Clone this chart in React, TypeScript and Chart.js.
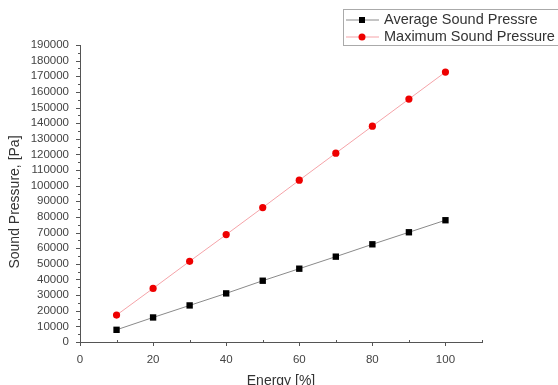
import React, { useEffect, useRef } from "react";
import { Chart, registerables } from "chart.js";

Chart.register(...registerables);

const energy = [10, 20, 30, 40, 50, 60, 70, 80, 90, 100];
const averagePressure = [7800, 15700, 23400, 31100, 39200, 46900, 54600, 62500, 70200, 77900];
const maximumPressure = [17200, 34300, 51600, 68700, 86000, 103500, 120800, 138100, 155400, 172700];
const seriesLabels = ["Average Sound Pressre", "Maximum Sound Pressure"];
const xTitle = "Energy [%]";
const yTitle = "Sound Pressure, [Pa]";

const FONT = "'Liberation Sans', Arial, sans-serif";
const AXIS_COLOR = "#555";

const decorPlugin = {
  id: "decor",
  afterDraw(chart: any) {
    const ctx = chart.ctx;
    const xs = chart.scales.x;
    const ys = chart.scales.y;
    const area = chart.chartArea;
    ctx.save();
    ctx.strokeStyle = AXIS_COLOR;
    ctx.lineWidth = 1;
    // y ticks
    for (let v = 0; v <= 190000; v += 5000) {
      const py = Math.round(ys.getPixelForValue(v)) + 0.5;
      const major = v % 10000 === 0;
      ctx.beginPath();
      ctx.moveTo(area.left, py);
      ctx.lineTo(area.left - (major ? 4 : 2), py);
      ctx.stroke();
    }
    // x ticks
    for (let v = 0; v <= 110; v += 10) {
      const px = Math.round(xs.getPixelForValue(v)) + 0.5;
      const major = v % 20 === 0;
      ctx.beginPath();
      if (major) {
        ctx.moveTo(px, area.bottom);
        ctx.lineTo(px, area.bottom + 4);
      } else {
        ctx.moveTo(px, area.bottom - 2);
        ctx.lineTo(px, area.bottom + 1);
      }
      ctx.stroke();
    }
    // axis titles
    ctx.fillStyle = "#333";
    ctx.font = `14px ${FONT}`;
    ctx.textAlign = "center";
    ctx.textBaseline = "middle";
    ctx.fillText(xTitle, (area.left + area.right) / 2, 381);
    ctx.save();
    ctx.translate(15, 202);
    ctx.rotate(-Math.PI / 2);
    ctx.fillText(yTitle, 0, 0);
    ctx.restore();

    // legend
    const bx = 343.5, by = 9.5, bw = 240, bh = 36;
    ctx.strokeStyle = "#aaa";
    ctx.strokeRect(bx, by, bw, bh);
    const rows = [20, 37];
    chart.data.datasets.forEach((ds: any, i: number) => {
      const y = rows[i];
      ctx.strokeStyle = ds.borderColor;
      ctx.lineWidth = 1;
      ctx.beginPath();
      ctx.moveTo(346, y);
      ctx.lineTo(379, y);
      ctx.stroke();
      ctx.fillStyle = ds.pointBackgroundColor;
      if (ds.pointStyle === "rect") {
        ctx.fillRect(362 - 3, y - 3, 6, 6);
      } else {
        ctx.beginPath();
        ctx.arc(362, y, 3.5, 0, Math.PI * 2);
        ctx.fill();
      }
      ctx.fillStyle = "#333";
      ctx.font = `14.5px ${FONT}`;
      ctx.textAlign = "left";
      ctx.textBaseline = "middle";
      ctx.fillText(ds.label, 384, y);
    });
    ctx.restore();
  },
};

export default function App() {
  const ref = useRef<HTMLCanvasElement | null>(null);
  useEffect(() => {
    if (!ref.current) return;
    const chart = new Chart(ref.current, {
      type: "line",
      data: {
        datasets: [
          {
            label: seriesLabels[0],
            data: energy.map((x, i) => ({ x, y: averagePressure[i] })),
            borderColor: "#8a8a8a",
            borderWidth: 1,
            pointStyle: "rect",
            pointRadius: 4.5,
            pointBackgroundColor: "#000",
            pointBorderColor: "#000",
            pointBorderWidth: 0,
          },
          {
            label: seriesLabels[1],
            data: energy.map((x, i) => ({ x, y: maximumPressure[i] })),
            borderColor: "#f5a3a8",
            borderWidth: 1,
            pointStyle: "circle",
            pointRadius: 3.6,
            pointBackgroundColor: "#ee0000",
            pointBorderColor: "#ee0000",
            pointBorderWidth: 0,
          },
        ],
      } as any,
      options: {
        responsive: false,
        animation: false,
        layout: { padding: { top: 45, right: 76, bottom: 0, left: 0 } },
        plugins: { legend: { display: false }, tooltip: { enabled: false } },
        scales: {
          x: {
            type: "linear",
            min: 0,
            max: 110,
            grid: { display: false },
            border: { display: true, color: AXIS_COLOR, width: 1 },
            ticks: {
              stepSize: 10,
              autoSkip: false,
              maxRotation: 0,
              padding: 3,
              color: "#444",
              font: { family: FONT, size: 11.5 },
              callback: (v: any) => (Number(v) % 20 === 0 && Number(v) <= 100 ? String(v) : ""),
            },
            afterFit: (s: any) => {
              s.height = 43;
            },
          },
          y: {
            type: "linear",
            min: 0,
            max: 190000,
            grid: { display: false },
            border: { display: true, color: AXIS_COLOR, width: 1 },
            ticks: {
              stepSize: 10000,
              autoSkip: false,
              padding: 3,
              color: "#444",
              font: { family: FONT, size: 11.5 },
              callback: (v: any) => String(v),
            },
            afterFit: (s: any) => {
              s.width = 80;
            },
          },
        },
      } as any,
      plugins: [decorPlugin],
    });
    return () => chart.destroy();
  }, []);
  return (
    <div style={{ position: "absolute", left: 0, top: 0, width: 558, height: 385, background: "#fff" }}>
      <canvas ref={ref} width={558} height={385} style={{ display: "block" }} />
    </div>
  );
}
